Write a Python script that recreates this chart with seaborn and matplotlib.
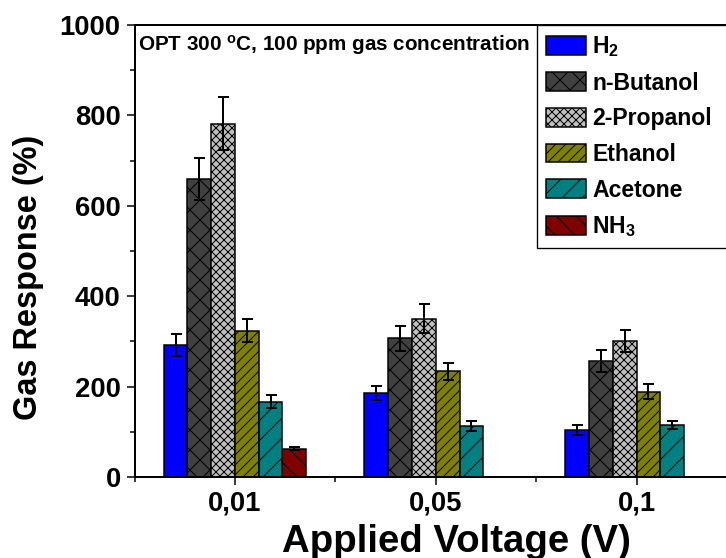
import matplotlib
matplotlib.use("Agg")
import matplotlib.pyplot as plt
from matplotlib.patches import Patch
from matplotlib.ticker import FixedLocator, MultipleLocator
import numpy as np
import pandas as pd
import seaborn as sns

# ---- data -------------------------------------------------------------
voltages = ["0,01", "0,05", "0,1"]
gases = ["H$_2$", "n-Butanol", "2-Propanol", "Ethanol", "Acetone", "NH$_3$"]

h2 = [292, 186, 104]
butanol = [659, 307, 257]
propanol = [782, 350, 301]
ethanol = [324, 234, 189]
acetone = [167, 113, 115]
nh3 = [63]                     # only measured at 0,01 V

h2_err = [24, 15, 10]
butanol_err = [47, 28, 25]
propanol_err = [59, 32, 24]
ethanol_err = [26, 19, 17]
acetone_err = [15, 11, 9]
nh3_err = [4]

colors = ["#0000FF", "#404040", "#C0C0C0", "#808000", "#008080", "#800000"]
hatches = ["", "xx", "xxxxx", "////", "//", "\\\\"]

series = [(h2, h2_err), (butanol, butanol_err), (propanol, propanol_err),
          (ethanol, ethanol_err), (acetone, acetone_err), (nh3, nh3_err)]

rows = []
for gas, (vals, errs) in zip(gases, series):
    for v, val, err in zip(voltages, vals, errs):
        rows.append({"voltage": v, "gas": gas, "response": val, "err": err})
df = pd.DataFrame(rows)

# ---- style ------------------------------------------------------------
sns.set_style("ticks")
plt.rcParams["font.family"] = ["Liberation Sans", "DejaVu Sans"]
plt.rcParams["font.weight"] = "bold"
plt.rcParams["mathtext.default"] = "regular"
plt.rcParams["hatch.linewidth"] = 0.6
plt.rcParams["hatch.color"] = "black"
for key in ["text.color", "axes.labelcolor", "xtick.color", "ytick.color",
            "axes.edgecolor"]:
    plt.rcParams[key] = "black"

DPI = 120
fig = plt.figure(figsize=(726 / DPI, 558 / DPI), dpi=DPI)
ax = fig.add_axes([134.5 / 726, 81 / 558, 602.5 / 726, 452 / 558])

sns.barplot(data=df, x="voltage", y="response", hue="gas",
            order=voltages, hue_order=gases, palette=colors,
            width=0.71, gap=0, errorbar=None, edgecolor="black",
            linewidth=0.9, saturation=1, legend=False, ax=ax)

err_lookup = {(r.gas, r.voltage): r.err for r in df.itertuples()}
for gas, hatch, cont in zip(gases, hatches, ax.containers):
    for bar in cont:
        bar.set_hatch(hatch)
        xc = bar.get_x() + bar.get_width() / 2
        v = voltages[int(round(xc))]
        ax.errorbar(xc, bar.get_height(), yerr=err_lookup[(gas, v)],
                    fmt="none", ecolor="black", elinewidth=1.2,
                    capsize=3.3, capthick=1.2, zorder=5)

# ---- axes -------------------------------------------------------------
ax.set_xlim(-0.5, 2.5)
ax.set_ylim(0, 1000)
ax.yaxis.set_major_locator(MultipleLocator(200))
ax.yaxis.set_minor_locator(MultipleLocator(100))
ax.xaxis.set_minor_locator(FixedLocator([-0.5, 0.5, 1.5, 2.5]))
ax.tick_params(which="major", direction="out", length=4.8, width=0.9,
               labelsize=16.5, colors="black")
ax.tick_params(which="minor", direction="out", length=3, width=0.9,
               colors="black")
for lab in ax.get_xticklabels() + ax.get_yticklabels():
    lab.set_fontweight("bold")
for sp in ax.spines.values():
    sp.set_linewidth(1.2)
    sp.set_color("black")
    sp.set_visible(True)

ax.set_xlabel("Applied Voltage (V)", fontsize=23, fontweight="bold")
ax.set_ylabel("Gas Response (%)", fontsize=19.5, fontweight="bold")
ax.xaxis.set_label_coords(0.534, -0.105)
ax.yaxis.set_label_coords(-0.150, 0.442)

ax.text(0.006, 0.943, "OPT 300 $^{o}$C, 100 ppm gas concentration",
        transform=ax.transAxes, fontsize=12.4, fontweight="bold",
        ha="left", va="baseline")

handles = [Patch(facecolor=c, edgecolor="black", hatch=h, linewidth=0.9)
           for c, h in zip(colors, hatches)]
leg = ax.legend(handles, gases, loc="upper left",
                bbox_to_anchor=(0.668, 0.0, 0.45, 1.0), mode="expand",
                borderaxespad=0, fancybox=False, framealpha=1,
                edgecolor="black", prop={"size": 13.8, "weight": "bold"},
                handlelength=1.74, handleheight=0.87, handletextpad=0.26,
                labelspacing=0.55, borderpad=0.4)
leg.get_frame().set_linewidth(0.8)

fig.savefig("out.png", dpi=DPI)
